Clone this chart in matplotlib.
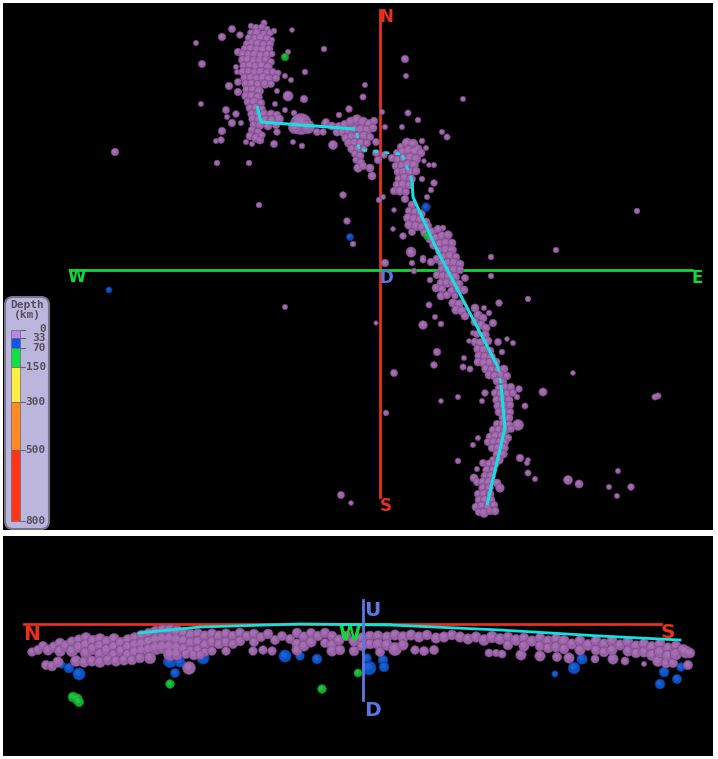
import numpy as np
import matplotlib
matplotlib.use("Agg")
import matplotlib.pyplot as plt
from matplotlib.patches import FancyBboxPatch

W, H = 718, 759
PURPLE = "#9a62a6"
BLUE = "#0d48b4"
GREEN = "#12a72a"
RED = "#e8301a"
LIME = "#10d838"
SLATE = "#5a78e0"
CYAN = "#14e0e0"

# events in the map view: (x, y, magnitude), x east and y south on a 710 x 527 grid
north_arm = [
    (256,28,4.6),(262,27,4.4),(267,29,4.3),(251,33,4.5),(257,33,4.9),(264,34,4.6),(270,33,4.4),
    (249,38,4.6),(255,39,4.9),(261,38,5.0),(267,39,4.7),(272,40,4.2),(247,44,4.6),(252,43,4.8),
    (258,44,5.0),(264,45,4.9),(270,44,4.6),(245,49,4.7),(251,49,5.0),(257,50,5.1),(263,50,5.0),
    (269,49,4.7),(243,54,4.8),(249,55,5.0),(255,55,5.1),(261,56,5.0),(267,55,4.8),(272,54,4.3),
    (243,60,4.9),(248,60,5.0),(254,61,5.1),(260,61,5.0),(266,60,4.8),(271,62,4.5),(244,66,4.8),
    (250,66,5.1),(256,67,5.1),(262,66,5.0),(268,67,4.8),(243,72,4.8),(249,72,5.0),(255,73,5.1),
    (261,72,5.0),(267,73,4.8),(273,72,4.5),(245,78,4.8),(251,78,5.0),(257,79,5.1),(263,78,5.1),
    (269,79,4.9),(276,78,4.6),(246,84,4.8),(252,84,5.0),(258,85,5.0),(265,84,4.8),(271,84,4.5),
    (247,90,4.8),(253,90,5.0),(259,91,4.9),(246,96,4.8),(252,96,5.0),(258,97,4.8),(248,102,4.7),
    (254,102,5.0),(261,103,4.6),(250,108,4.7),(256,108,4.9),(262,109,4.5),(252,114,4.8),(258,114,5.0),
    (264,114,4.8),(271,114,4.7),(277,115,4.6),(253,119,4.8),(259,120,5.0),(265,120,4.9),(272,120,4.9),
    (279,119,4.9),(254,125,4.7),(260,125,4.8),(268,126,4.7),(276,125,4.6),(252,130,4.6),(258,132,4.6),
    (250,136,4.7),(256,138,4.8),(260,140,4.7),(262,135,4.4),
]
middle_arm = [
    (301,124,7.4),(295,127,5.8),(308,127,5.8),(325,124,4.6),(332,126,4.7),(339,127,4.9),(345,125,5.0),
    (351,122,5.1),(357,120,5.2),(363,122,5.1),(369,124,4.9),(374,121,4.6),(337,132,4.7),(343,132,4.9),
    (349,131,5.1),(355,130,5.2),(361,130,5.2),(367,130,5.0),(373,128,4.7),(346,138,4.8),(352,137,5.1),
    (358,137,5.2),(364,136,5.0),(370,137,4.6),(349,143,4.9),(355,143,5.1),(361,143,4.9),(367,143,4.5),
    (352,149,4.8),(358,149,4.9),(364,149,4.4),(355,154,4.5),(360,156,4.7),(356,160,4.4),(361,163,4.7),
    (358,168,4.8),(363,166,4.6),(370,168,4.7),(372,176,4.7),(317,132,4.5),(323,132,4.4),(333,145,4.9),
    (326,122,4.5),(376,142,4.5),(376,153,4.5),(378,160,4.6),(384,155,4.4),
]
east_arm = [
    (401,147,4.6),(407,143,5.1),(413,144,5.1),(418,149,4.8),(397,153,4.6),(403,152,5.1),(409,151,5.3),
    (415,152,5.2),(421,153,4.7),(392,158,4.6),(398,160,4.8),(404,159,5.1),(410,158,5.2),(416,159,5.0),
    (396,166,4.7),(402,166,5.0),(408,165,5.2),(414,165,4.9),(398,172,4.7),(404,172,5.0),(410,172,5.0),
    (416,171,4.7),(399,179,4.7),(405,178,5.0),(411,179,4.9),(397,185,4.7),(403,185,5.1),(409,185,4.7),
    (394,191,4.6),(400,191,4.8),(406,192,4.5),(405,199,4.6),(412,205,4.7),(409,211,4.6),(415,212,4.7),
    (421,214,4.8),(408,218,4.9),(414,219,5.0),(420,220,4.9),(426,222,4.7),(409,225,4.8),(416,226,5.0),
    (422,227,4.9),(428,226,4.6),(412,232,4.5),(425,233,4.8),(432,232,4.8),(438,229,4.6),(430,239,4.8),
    (436,238,4.9),(442,236,4.9),(448,235,4.8),(434,245,4.8),(440,244,5.0),(446,243,5.0),(452,243,4.7),
    (440,251,4.9),(446,250,5.1),(452,250,4.9),(444,257,4.9),(450,256,5.0),(456,257,4.6),(437,259,4.7),
    (431,262,4.6),(442,263,4.8),(448,263,5.0),(454,263,5.0),(460,264,4.7),(442,269,4.7),(448,270,5.0),
    (454,270,5.0),(460,270,4.6),(437,275,4.6),(443,276,4.8),(449,276,5.0),(455,277,4.9),(465,278,4.5),
    (441,283,4.7),(447,283,4.9),(453,283,4.8),(459,284,4.7),(436,288,4.7),(442,289,4.6),(452,291,4.8),
    (458,289,4.8),(464,290,4.7),(441,296,4.7),(447,295,4.6),(455,296,4.4),(453,303,4.8),(459,304,4.8),
    (456,310,4.8),(462,311,4.8),(465,316,4.7),(475,308,4.7),(478,315,4.8),(483,318,4.7),(475,322,4.7),
    (481,325,4.8),(486,328,4.7),(477,334,4.5),(485,335,4.8),(475,342,4.7),(480,343,4.8),(488,341,4.7),
    (478,349,4.8),(484,350,5.0),(490,351,4.7),(479,356,4.8),(485,357,5.0),(491,357,4.9),(478,362,4.7),
    (484,363,4.9),(490,363,5.0),(496,362,4.7),(486,369,4.8),(492,370,4.9),(498,370,4.9),(504,369,4.7),
    (489,375,4.7),(495,376,4.9),(501,375,4.8),(507,376,4.6),(497,381,4.7),(503,382,4.6),(499,388,4.6),
    (505,387,4.7),(511,387,4.6),(495,393,4.6),(501,394,4.9),(507,394,4.8),(513,393,4.5),(497,400,4.8),
    (503,400,5.0),(509,400,4.7),(498,406,4.8),(504,406,5.0),(510,405,4.6),(499,412,4.7),(505,412,4.9),
    (510,412,4.6),(503,418,4.7),(509,418,4.7),(497,424,4.6),(503,424,4.8),(509,425,4.7),(493,430,4.6),
    (499,430,4.9),(505,430,4.9),(511,429,4.5),(490,437,4.7),(496,436,4.9),(502,436,4.9),(508,438,4.6),
    (488,442,4.6),(494,442,4.8),(500,442,4.9),(505,442,4.6),(492,448,4.6),(498,448,4.9),(504,448,4.8),
    (497,454,4.7),(503,454,4.8),(493,460,4.5),(499,460,4.8),(483,463,4.5),(489,464,4.7),(495,464,4.7),
    (487,470,4.8),(493,470,4.7),(485,476,4.7),(491,476,4.9),(474,478,4.7),(477,482,4.6),(483,482,4.8),
    (489,482,4.9),(497,483,4.7),(483,488,4.8),(489,488,4.8),(500,488,4.8),(478,494,4.6),(484,494,4.8),
    (490,494,4.7),(479,500,4.7),(485,500,4.9),(491,500,4.7),(476,507,4.7),(482,506,4.9),(488,507,4.8),
    (494,505,4.6),(479,512,4.6),(484,513,4.9),(490,511,4.6),(495,511,4.7),
]
map_scattered = [
    (196,43,4.1),(222,37,4.6),(232,29,4.5),(240,35,4.4),(251,26,4.2),(264,23,4.3),(274,31,4.2),(292,30,4.0),
    (324,49,4.2),(202,64,4.5),(238,52,4.6),(288,52,4.1),(305,72,4.2),(236,67,4.1),(237,72,4.1),(238,82,4.5),
    (229,86,4.6),(238,92,4.6),(201,104,4.1),(226,110,4.5),(227,117,4.1),(236,114,4.4),(232,123,4.6),(241,123,4.1),
    (222,131,4.6),(221,140,4.4),(216,141,4.1),(246,142,4.1),(252,144,4.1),(217,163,4.2),(249,163,4.2),(259,205,4.2),
    (274,144,4.5),(277,132,4.4),(293,142,4.1),(302,146,4.2),(288,96,5.1),(304,99,4.6),(275,104,4.1),(285,110,4.1),
    (277,91,4.1),(291,80,4.1),(285,76,4.1),(278,73,4.3),(294,113,4.2),(349,109,4.4),(339,115,4.2),(365,85,4.1),
    (363,97,4.3),(379,200,4.2),(383,197,4.1),(343,195,4.4),(347,221,4.4),(353,244,4.2),(405,59,4.6),(406,76,4.1),
    (382,112,4.1),(408,113,4.3),(418,120,4.2),(402,127,4.1),(385,127,4.1),(442,132,4.1),(447,137,4.3),(422,141,4.2),
    (426,148,4.1),(424,161,4.0),(429,165,4.0),(434,165,4.1),(422,179,4.2),(434,183,4.4),(431,190,4.2),(427,197,4.1),
    (443,228,4.2),(394,210,4.0),(393,229,4.0),(403,236,4.4),(411,252,5.1),(423,258,4.2),(115,152,4.6),(285,307,4.1),
    (376,323,3.9),(394,373,4.5),(637,211,4.2),(556,250,4.2),(463,99,4.1),(341,495,4.5),(351,503,4.0),(385,263,4.6),
    (423,260,4.3),(412,263,4.2),(411,253,4.7),(414,271,4.2),(430,280,4.2),(429,305,4.3),(435,317,4.1),(423,325,4.8),
    (441,324,4.2),(437,352,4.6),(434,365,4.4),(464,358,4.1),(463,367,4.3),(470,369,4.3),(469,341,4.0),(473,333,4.1),
    (386,413,4.2),(441,401,4.0),(458,397,4.1),(482,401,4.1),(485,393,4.4),(491,257,4.2),(491,276,4.2),(499,303,4.4),
    (528,299,4.2),(507,339,4.0),(513,343,4.1),(502,352,4.2),(498,342,4.5),(493,323,4.6),(489,313,4.2),(484,308,4.1),
    (573,373,4.0),(543,392,4.7),(519,389,4.4),(517,397,4.2),(525,406,4.3),(518,425,5.3),(478,438,4.1),(473,445,4.1),
    (458,461,4.2),(477,469,4.1),(520,458,4.6),(528,460,4.0),(527,463,4.1),(528,473,4.3),(535,479,4.1),(568,480,4.9),
    (579,484,4.7),(609,487,4.1),(618,471,4.1),(631,487,4.4),(617,496,4.1),(658,396,4.3),(655,397,4.3),
]
map_blue = [(426,207,4.8),(350,237,4.5),(109,290,4.3)]
map_green = [(285,57,4.6),(427,236,4.5)]

# events in the cross section: (x, y, magnitude) on the same horizontal scale
section_band = [
    (32,652,4.5),(38,650,4.6),(43,646,4.6),(48,650,4.8),(54,647,4.8),(60,643,4.7),(60,651,4.9),(66,646,4.9),
    (72,642,4.8),(72,651,5.0),(79,640,4.8),(79,647,5.0),(86,638,4.9),(86,645,5.0),(86,653,5.0),(93,641,5.0),
    (93,649,5.0),(100,639,4.9),(100,646,5.0),(100,654,4.9),(107,642,5.0),(107,650,5.0),(114,639,4.9),(114,647,5.0),
    (114,655,4.9),(121,643,5.0),(121,651,5.0),(128,640,4.9),(128,647,5.0),(128,655,5.0),(135,638,4.9),(135,645,5.0),
    (135,652,5.1),(142,636,5.0),(142,644,5.1),(142,651,5.1),(149,634,5.0),(149,642,5.1),(149,650,5.2),(156,632,5.1),
    (156,640,5.2),(156,648,5.3),(163,631,5.2),(163,639,5.3),(163,647,5.3),(170,631,5.3),(170,639,5.3),(170,647,5.3),
    (170,654,5.3),(177,632,5.2),(177,640,5.3),(177,648,5.3),(177,654,5.1),(184,633,5.0),(184,641,5.1),(184,649,5.0),
    (191,635,4.9),(191,643,5.0),(191,651,4.8),(198,634,4.8),(198,642,4.9),(198,650,4.8),(205,636,4.8),(205,645,4.8),
    (205,652,4.5),(212,634,4.8),(212,642,4.8),(212,651,4.5),(219,636,4.8),(219,644,4.7),(226,634,4.8),(226,642,4.7),
    (226,651,4.5),(233,636,4.7),(233,644,4.6),(240,633,4.7),(240,641,4.7),(247,636,4.7),(254,634,4.7),(254,642,4.6),
    (253,651,4.5),(261,637,4.6),(263,650,4.5),(268,634,4.7),(272,651,4.5),(275,640,4.6),(282,636,4.6),(290,639,4.6),
    (297,633,4.7),(297,644,4.8),(297,650,4.8),(304,637,4.8),(304,646,4.8),(311,633,4.6),(311,642,4.8),(318,636,4.7),
    (325,633,4.7),(325,643,4.6),(332,636,4.7),(332,645,4.8),(332,651,4.8),(339,640,4.8),(340,650,4.7),(346,636,4.7),
    (354,641,4.8),(354,651,4.7),(362,638,4.8),(362,646,4.7),(370,636,4.7),(370,644,4.7),(378,636,4.8),(378,644,4.9),
    (380,652,4.6),(387,637,4.8),(387,645,4.9),(395,635,4.8),(395,649,5.3),(403,637,4.9),(403,645,4.8),(411,635,4.8),
    (415,650,4.5),(419,637,4.8),(424,651,4.6),(427,635,4.7),(434,650,4.6),(436,638,4.8),(444,637,4.8),(452,635,4.7),
    (460,637,4.8),(468,639,4.8),(476,637,4.8),(484,640,4.9),(489,653,4.4),(492,637,5.0),(496,653,4.3),(500,639,4.9),
    (502,654,4.4),(508,637,4.7),(508,645,4.7),(516,640,4.9),(521,655,4.8),(524,638,4.7),(524,646,4.8),(532,641,4.8),
    (540,638,4.7),(540,656,4.8),(540,646,4.7),(548,641,4.8),(548,648,4.7),(556,639,4.8),(557,657,4.6),(556,647,4.8),
    (564,641,4.9),(564,649,4.7),(569,658,4.8),(572,644,4.8),(580,641,4.8),(580,650,4.8),(588,645,4.9),(595,659,4.4),
    (596,641,4.8),(596,650,4.7),(604,644,4.8),(604,652,4.7),(612,641,4.8),(613,659,4.8),(612,650,4.8),(620,645,4.8),
    (625,661,4.4),(628,642,4.8),(628,651,4.8),(636,646,4.8),(636,653,4.7),(644,644,4.8),(644,664,3.9),(644,652,4.8),
    (652,647,4.9),(652,655,4.9),(658,661,4.9),(660,644,4.8),(660,652,5.0),(666,663,4.7),(668,648,4.8),(668,656,5.0),
    (673,663,4.6),(676,646,4.7),(676,654,5.0),(683,650,5.0),(686,652,5.1),(688,665,4.6),(690,653,4.7),
    (46,665,4.6),(52,666,4.7),(58,662,4.8),(76,661,4.9),(84,662,4.8),(92,661,4.8),(100,662,4.9),(108,660,4.8),
    (116,661,4.8),(124,660,4.8),(132,660,4.7),(140,658,4.7),(150,658,5.0),(186,654,4.6),(194,655,4.7),(200,655,4.5),
]
section_blue = [
    (62,665,4.2),(69,668,4.7),(79,674,5.1),(170,661,5.3),(180,662,4.8),(175,673,4.6),(203,658,5.1),(285,656,5.1),
    (300,656,4.5),(317,659,4.7),(369,668,5.4),(367,658,4.5),(383,660,4.7),(384,667,4.7),(555,674,4.1),(574,668,5.0),
    (582,659,4.8),(664,672,4.7),(681,667,4.5),(677,679,4.6),(660,684,4.7),
]
section_purple_low = [(189,668,5.2)]
section_green = [(73,697,4.7),(77,699,4.8),(79,702,4.6),(170,684,4.5),(322,689,4.5),(358,673,4.4)]

# slab trace
trace_solid = [
    ([257,261,355],[106,122,129]),
    ([412,413,437,498],[180,197,250,367]),
    ([501,505,487],[385,428,505]),
]
trace_dotted = [
    ([357,359],[133,149]),
    ([362,400],[150,154]),
    ([402,412],[155,180]),
    ([498,501],[367,385]),
]
section_trace_x = [139,200,300,390,500,600,680]
section_trace_y = [633,627,624,625,630,636,640]

depth_labels = ["0","33","70","150","300","500","800"]
depth_edges = [330,338,348,367,402,450,521]
depth_colors = ["#b58ad8","#0f55ee","#10e040","#ffee44","#ff8a22","#ff3518"]


def spheres(ax, events, color, shade="#7c4a84", light="#b27dc0", z=3, scale=2.4):
    x, y, mag = np.array(events, dtype=float).T
    radius = (mag - 3.0) * scale
    size = (2 * radius * 0.72) ** 2
    ax.scatter(x, y, s=size, color=color, edgecolors=shade, linewidths=0.4, zorder=z)
    ax.scatter(x - radius * 0.15, y - radius * 0.2, s=size * 0.25, color=light, alpha=0.5,
               linewidths=0, zorder=z + 0.1)


fig = plt.figure(figsize=(W / 100, H / 100), dpi=100, facecolor="white")

ax = fig.add_axes([3 / W, 1 - 530 / H, 710 / W, 527 / H], facecolor="black")
ax.set_xlim(3, 713)
ax.set_ylim(530, 3)
ax.axis("off")
ax.add_patch(plt.Rectangle((3, 3), 710, 527, color="black", zorder=0))

ax.plot([380, 380], [10, 497], color=RED, lw=2, zorder=2)
ax.plot([70, 692], [270, 270], color=LIME, lw=2, zorder=2)
spheres(ax, map_scattered, PURPLE)
spheres(ax, north_arm + middle_arm + east_arm, PURPLE)
spheres(ax, map_blue, BLUE, "#0a3a90", "#2f6fdc")
spheres(ax, map_green, GREEN, "#0c8a20", "#38d050")
for xs, ys in trace_solid:
    ax.plot(xs, ys, color=CYAN, lw=2.2, zorder=5, solid_capstyle="butt")
for xs, ys in trace_dotted:
    ax.plot(xs, ys, color=CYAN, lw=1.8, ls=(0, (2, 2.5)), zorder=5)

for txt, x, y, c in [("N", 386, 17, RED), ("S", 386, 506, RED), ("W", 77, 277, LIME),
                     ("E", 697, 278, LIME), ("D", 386, 278, SLATE)]:
    ax.text(x, y, txt, color=c, fontsize=12, fontweight="bold", ha="center", va="center", zorder=6)

# depth legend
ax.add_patch(FancyBboxPatch((5, 297), 44, 232, boxstyle="round,pad=0,rounding_size=8",
                            mutation_aspect=1, fc="#bdb6dc", ec="#77738a", lw=1.5, zorder=7))
ax.text(27, 310, "Depth\n(km)", color="#55505f", fontsize=8, family="DejaVu Sans Mono", fontweight="bold",
        ha="center", va="center", linespacing=0.95, zorder=8)
for i, c in enumerate(depth_colors):
    ax.bar(15.5, depth_edges[i + 1] - depth_edges[i], width=9, bottom=depth_edges[i], color=c,
           edgecolor="#6a6480", linewidth=0.5, zorder=8)
for i, lab in enumerate(depth_labels):
    y = depth_edges[i]
    ax.plot([20, 25], [y, y], color="#6a6480", lw=0.8, zorder=8)
    ax.text(46, y - (1 if i == 0 else 0), lab, color="#55505f", fontsize=8,
            family="DejaVu Sans Mono", fontweight="bold", ha="right", va="center", zorder=8)

ax2 = fig.add_axes([3 / W, 1 - 756 / H, 710 / W, 220 / H], facecolor="black")
ax2.set_xlim(3, 713)
ax2.set_ylim(756, 536)
ax2.axis("off")
ax2.add_patch(plt.Rectangle((3, 536), 710, 220, color="black", zorder=0))

ax2.plot([24, 661], [624, 624], color=RED, lw=2, zorder=2)
ax2.plot([340, 390], [624, 624], color=LIME, lw=2, zorder=2.5)
spheres(ax2, section_blue, "#0d52c4", "#0a3a90", "#2f6fdc", z=2.7, scale=2.9)
spheres(ax2, section_green, "#10b030", "#0c8a20", "#38d050", z=2.7, scale=2.9)
spheres(ax2, section_band + section_purple_low, PURPLE, scale=2.9)
ax2.plot(section_trace_x, section_trace_y, color=CYAN, lw=2, zorder=5)
ax2.plot([363, 363], [600, 700], color=SLATE, lw=2, zorder=5)
for txt, x, y, c in [("N", 32, 634, RED), ("S", 668, 633, RED), ("W", 350, 634, LIME),
                     ("U", 372, 610, SLATE), ("D", 372, 711, SLATE)]:
    ax2.text(x, y, txt, color=c, fontsize=14.5, fontweight="bold", ha="center", va="center", zorder=6)

fig.savefig("out.png", dpi=100, facecolor="white")
